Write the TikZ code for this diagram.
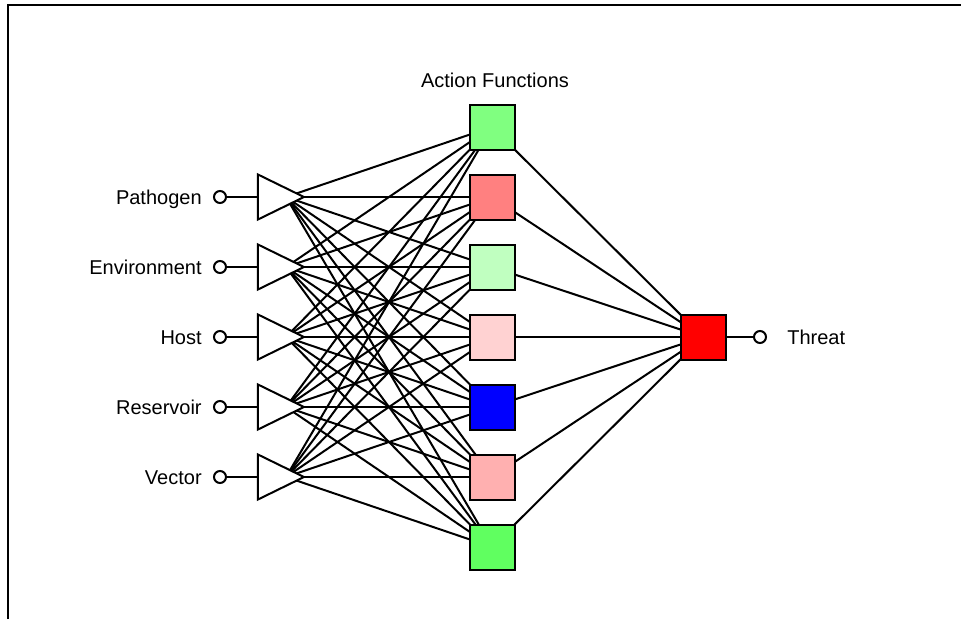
\documentclass[tikz,border=0pt]{standalone}
\usepackage{fontspec}
\setmainfont{Liberation Sans}
\usetikzlibrary{shapes.geometric}
\usetikzlibrary{backgrounds}

\definecolor{actA}{RGB}{128,255,128}
\definecolor{actB}{RGB}{255,128,128}
\definecolor{actC}{RGB}{192,255,192}
\definecolor{actD}{RGB}{255,210,210}
\definecolor{actE}{RGB}{0,0,255}
\definecolor{actF}{RGB}{255,176,176}
\definecolor{actG}{RGB}{96,255,96}
\definecolor{threatred}{RGB}{255,0,0}

\begin{document}
\begin{tikzpicture}[x=1pt, y=-1pt, line width=2pt,
    every node/.style={font=\fontsize{20}{24}\selectfont},
    wire/.style={line width=2pt},
    port/.style={circle, draw, fill=white, minimum size=12pt, inner sep=0pt},
    amp/.style={isosceles triangle, isosceles triangle stretches, draw, fill=white,
        minimum width=45pt, minimum height=46pt, inner sep=0pt},
    fbox/.style={rectangle, draw, minimum size=45pt, inner sep=0pt}]

    \useasboundingbox (0,0) rectangle (961,619);
    \draw [line width=2.2pt] (8,619) -- (8,5) -- (961,5);

    % inputs
    \foreach \lab [count=\i] in {Pathogen,Environment,Host,Reservoir,Vector}{
        \node [port] (in\i) at (220,{127+70*\i}) {};
        \node [amp] (amp\i) at (272,{127+70*\i}) {};
        \node [anchor=base east] (lab\i) at (206,{134+70*\i}) {\lab};
        \draw [wire] (in\i) -- (amp\i);
    }

    % action functions
    \node [anchor=base] (title) at (495,87) {Action Functions};
    \foreach \c [count=\j] in {actA,actB,actC,actD,actE,actF,actG}{
        \node [fbox, fill=\c] (f\j) at (492,{57+70*\j}) {};
    }

    % output
    \node [fbox, fill=threatred] (th) at (703,337) {};
    \node [port] (out) at (760,337) {};
    \node [anchor=base west] (tlab) at (783,344) {Threat};
    \draw [wire] (th) -- (out);

    \begin{pgfonlayer}{background}
        \foreach \i in {1,...,5}
            \foreach \j in {1,...,7}
                \draw [wire] ([xshift=14pt]amp\i.center) -- (f\j.center);
        \foreach \j in {1,...,7}
            \draw [wire] (f\j.center) -- (th.center);
    \end{pgfonlayer}

\end{tikzpicture}
\end{document}
